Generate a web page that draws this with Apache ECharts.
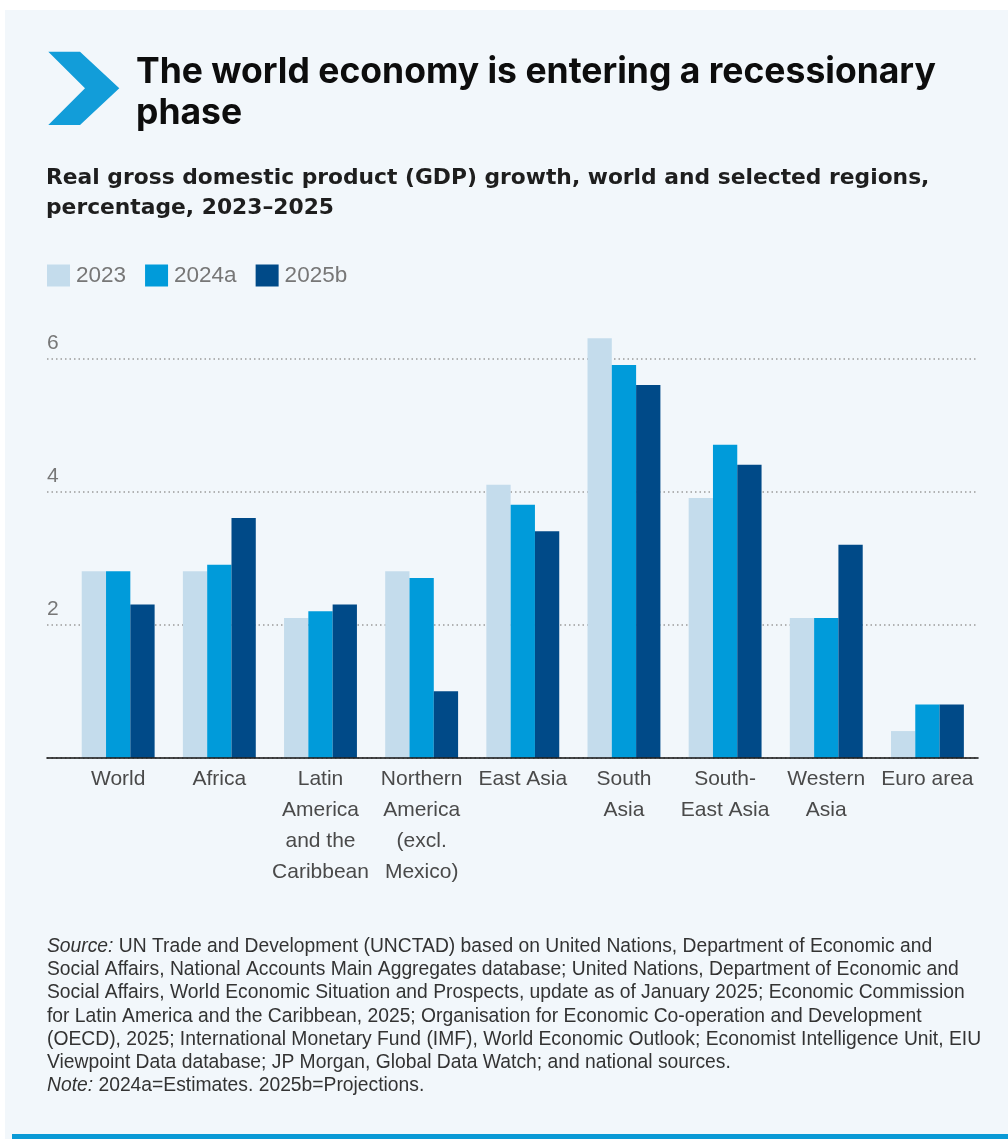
<!DOCTYPE html>
<html>
<head>
<meta charset="utf-8">
<script src="https://cdn.jsdelivr.net/npm/echarts@6/dist/echarts.min.js"></script>
<style>
html,body{margin:0;padding:0;background:#ffffff;}
#chart{width:1008px;height:1139px;}
</style>
</head>
<body>
<div id="chart"></div>
<script>
// ---- data ----
const categories = ['World', 'Africa', 'Latin America and the Caribbean', 'Northern America (excl. Mexico)', 'East Asia', 'South Asia', 'South-East Asia', 'Western Asia', 'Euro area'];
const categoryLabels = ['World', 'Africa', 'Latin\nAmerica\nand the\nCaribbean', 'Northern\nAmerica\n(excl.\nMexico)', 'East Asia', 'South\nAsia', 'South-\nEast Asia', 'Western\nAsia', 'Euro area'];
const seriesNames = ['2023', '2024a', '2025b'];
const values2023 = [2.8, 2.8, 2.1, 2.8, 4.1, 6.3, 3.9, 2.1, 0.4];
const values2024a = [2.8, 2.9, 2.2, 2.7, 3.8, 5.9, 4.7, 2.1, 0.8];
const values2025b = [2.3, 3.6, 2.3, 1.0, 3.4, 5.6, 4.4, 3.2, 0.8];
const yTicks = [0, 2, 4, 6];

const titleText = 'The world economy is entering a recessionary\nphase';
const subtitleText = 'Real gross domestic product (GDP) growth, world and selected regions,\npercentage, 2023\u20132025';
const sourceLines = [
  '{i|Source:} UN Trade and Development (UNCTAD) based on United Nations, Department of Economic and',
  'Social Affairs, National Accounts Main Aggregates database; United Nations, Department of Economic and',
  'Social Affairs, World Economic Situation and Prospects, update as of January 2025; Economic Commission',
  'for Latin America and the Caribbean, 2025; Organisation for Economic Co-operation and Development',
  '(OECD), 2025; International Monetary Fund (IMF), World Economic Outlook; Economist Intelligence Unit, EIU',
  'Viewpoint Data database; JP Morgan, Global Data Watch; and national sources.',
  '{i|Note:} 2024a=Estimates. 2025b=Projections.'
];

const colors = ['#c4dcec', '#009bda', '#004a88'];
const sans = "'Liberation Sans', Arial, sans-serif";
const inter = "Inter, 'Liberation Sans', sans-serif";
const dejavu = "'DejaVu Sans', 'Liberation Sans', sans-serif";

const chart = echarts.init(document.getElementById('chart'), null, {renderer: 'canvas'});

const baseY = 757.7;
const pxPerUnit = 66.57;
const axisMax = 6;
const barMax = 6.5;

chart.setOption({
  animation: false,
  backgroundColor: '#ffffff',
  color: colors,
  title: [
    {
      text: titleText,
      left: 136, top: 52, padding: 0,
      textStyle: {fontFamily: inter, fontSize: 35.5, fontWeight: 'bold', color: '#0d0d0d', lineHeight: 41}
    },
    {
      text: subtitleText,
      left: 46, top: 163, padding: 0,
      textStyle: {fontFamily: dejavu, fontSize: 21.8, fontWeight: 'bold', color: '#1e1e1e', lineHeight: 30}
    }
  ],
  legend: {
    left: 47, top: 264, padding: 0,
    icon: 'rect',
    itemWidth: 23, itemHeight: 22, itemGap: 19,
    textStyle: {fontFamily: sans, fontSize: 22.5, color: '#777777', padding: [0, 0, 0, 1]},
    data: seriesNames
  },
  grid: [
    {left: 47, right: 30, top: baseY - axisMax * pxPerUnit, bottom: 1139 - baseY},
    {left: 67.6, right: 30, top: baseY - barMax * pxPerUnit, bottom: 1139 - baseY}
  ],
  xAxis: [
    {
      gridIndex: 0, type: 'value', min: 0, max: 1, z: 5,
      axisLine: {show: true, onZero: false, lineStyle: {color: '#111111', width: 1.6}},
      axisTick: {show: false}, axisLabel: {show: false}, splitLine: {show: false}
    },
    {
      gridIndex: 1, type: 'category', data: categories,
      axisLine: {show: false}, axisTick: {show: false},
      axisLabel: {
        interval: 0, margin: 6,
        formatter: (v, i) => categoryLabels[i],
        fontFamily: sans, fontSize: 21, lineHeight: 31, color: '#4a4a4a', align: 'center'
      }
    }
  ],
  yAxis: [
    {
      gridIndex: 0, type: 'value', min: yTicks[0], max: yTicks[yTicks.length - 1], interval: 2,
      axisLine: {show: false}, axisTick: {show: false},
      axisLabel: {
        inside: true, margin: 0, verticalAlign: 'bottom', padding: [0, 0, 5, 0],
        fontFamily: sans, fontSize: 21, color: '#777777',
        formatter: v => (v === 0 ? '' : String(v))
      },
      splitLine: {show: true, lineStyle: {type: [1.5, 3], color: '#9c9c9c', width: 1.5}}
    },
    {
      gridIndex: 1, type: 'value', min: 0, max: barMax,
      axisLine: {show: false}, axisTick: {show: false}, axisLabel: {show: false}, splitLine: {show: false}
    }
  ],
  series: [
    {name: seriesNames[0], type: 'bar', xAxisIndex: 1, yAxisIndex: 1, data: values2023, barWidth: 24.3, barGap: '0%', z: 3},
    {name: seriesNames[1], type: 'bar', xAxisIndex: 1, yAxisIndex: 1, data: values2024a, barWidth: 24.3, barGap: '0%', z: 3},
    {name: seriesNames[2], type: 'bar', xAxisIndex: 1, yAxisIndex: 1, data: values2025b, barWidth: 24.3, barGap: '0%', z: 3}
  ],
  graphic: [
    {type: 'rect', z: -10, silent: true, shape: {x: 5, y: 10, width: 1003, height: 1129}, style: {fill: '#f2f7fb'}},
    {type: 'rect', z: -5, silent: true, shape: {x: 12, y: 1134, width: 996, height: 5}, style: {fill: '#0a9ad6'}},
    {
      type: 'polygon', z: 10, silent: true,
      shape: {points: [[48.3, 51.7], [80, 51.7], [119.3, 88.3], [80, 125], [48.3, 125], [85, 88.3]]},
      style: {fill: '#129dd9'}
    },
    {
      type: 'text', left: 47, top: 935, z: 10, silent: true,
      style: {
        text: sourceLines.join('\n'),
        fontFamily: sans, fontSize: 19.3, lineHeight: 23.2, fill: '#333333',
        rich: {i: {fontStyle: 'italic', fontFamily: sans, fontSize: 19.3, fill: '#333333'}}
      }
    }
  ]
});
</script>
</body>
</html>
